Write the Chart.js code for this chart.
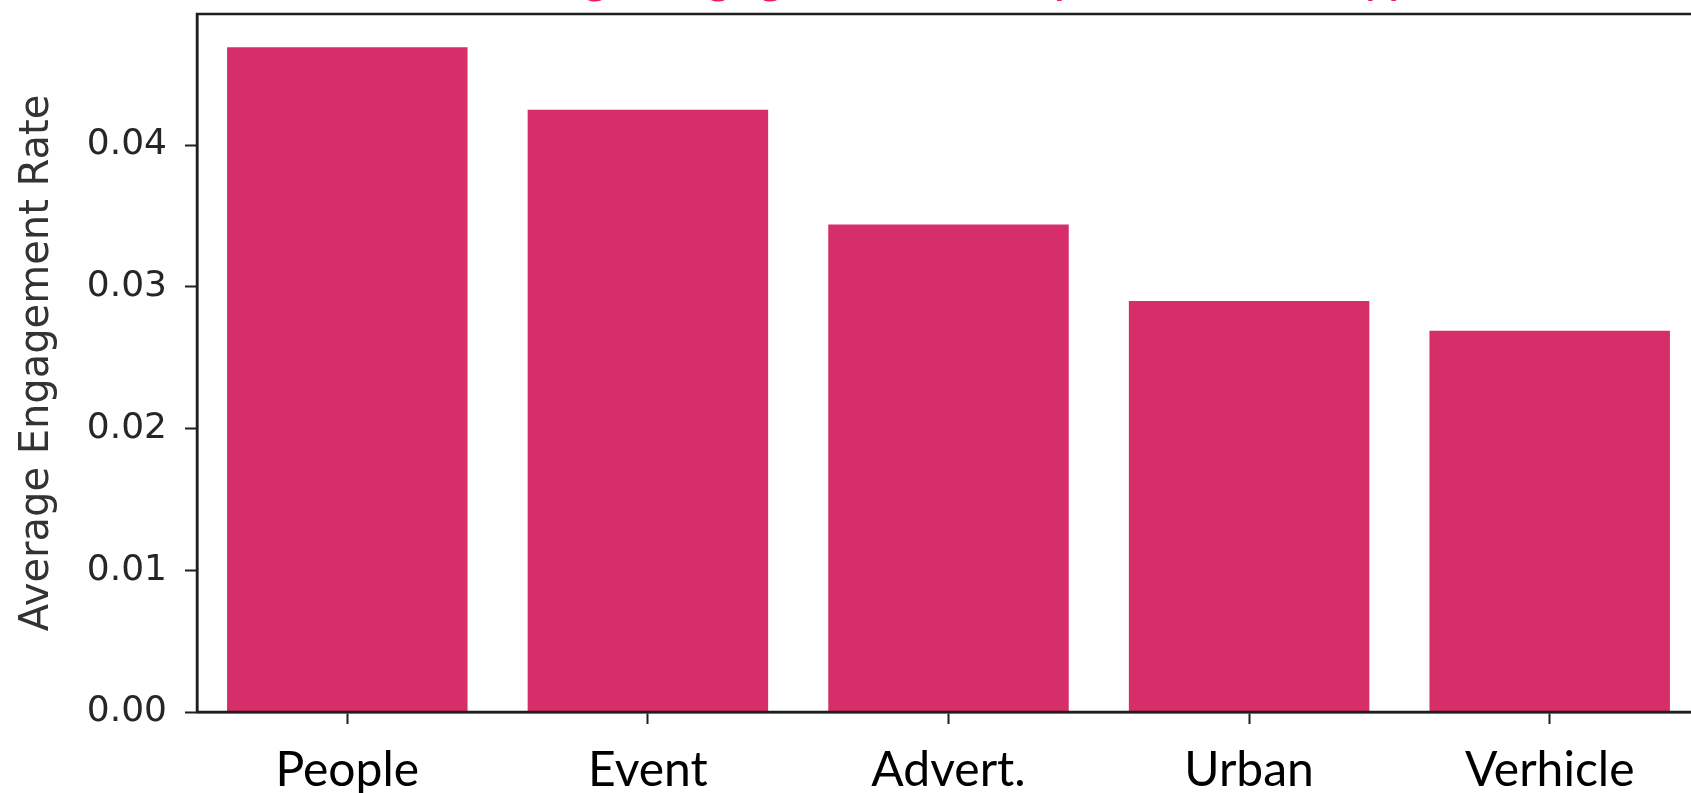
<!DOCTYPE html>
<html>
<head>
<meta charset="utf-8">
<script src="https://cdn.jsdelivr.net/npm/chart.js@4"></script>
<style>
  html, body { margin: 0; padding: 0; background: #fff; overflow: hidden; width: 1691px; height: 793px; }
  #wrap { position: absolute; left: 0; top: -60px; width: 1700px; height: 853px; }
</style>
</head>
<body>
<div id="wrap"><canvas id="c" width="1700" height="853"></canvas></div>
<script>
const categories = ['People', 'Event', 'Advert.', 'Urban', 'Verhicle'];
const engagementRates = [0.0469, 0.0425, 0.0344, 0.0290, 0.0269];
const yAxisMax = 0.04925;
const yTickStep = 0.01;
const chartTitle = 'Average Engagement Rate per Content Type';
const yAxisTitle = 'Average Engagement Rate';

const spinePlugin = {
  id: 'spines',
  afterDraw(chart) {
    const { ctx, chartArea: a } = chart;
    ctx.save();
    ctx.strokeStyle = '#1e1e1e';
    ctx.lineWidth = 2.5;
    ctx.strokeRect(a.left, a.top, a.right - a.left, a.bottom - a.top);
    ctx.restore();
  }
};

new Chart(document.getElementById('c'), {
  type: 'bar',
  data: {
    labels: categories,
    datasets: [{
      data: engagementRates,
      backgroundColor: '#D62E69',
      borderWidth: 0,
      barPercentage: 0.8,
      categoryPercentage: 1.0
    }]
  },
  options: {
    responsive: false,
    animation: false,
    devicePixelRatio: 1,
    layout: { padding: 0 },
    plugins: {
      legend: { display: false },
      tooltip: { enabled: false },
      title: {
        display: true,
        fullSize: false,
        text: chartTitle,
        color: '#EE1C5E',
        font: { family: 'Lato', size: 51, weight: 'normal', lineHeight: 1 },
        padding: { top: 10, bottom: 13 },
        align: 'center'
      }
    },
    scales: {
      x: {
        type: 'category',
        offset: true,
        afterFit(scale) { scale.height = 81; },
        grid: {
          display: true,
          drawOnChartArea: false,
          drawTicks: true,
          tickLength: 12,
          tickWidth: 2,
          tickColor: '#1e1e1e',
          offset: false
        },
        border: { display: true, color: '#1e1e1e', width: 2.5 },
        ticks: {
          color: '#000',
          font: { family: 'Lato', size: 48 },
          padding: 18,
          maxRotation: 0,
          autoSkip: false
        }
      },
      y: {
        min: 0,
        max: yAxisMax,
        afterFit(scale) { scale.width = 197; },
        grid: {
          display: true,
          drawOnChartArea: false,
          drawTicks: true,
          tickLength: 12,
          tickWidth: 2,
          tickColor: '#1e1e1e'
        },
        border: { display: true, color: '#1e1e1e', width: 2.5 },
        ticks: {
          stepSize: yTickStep,
          includeBounds: false,
          color: '#262626',
          font: { family: 'DejaVu Sans', size: 36 },
          padding: 18,
          callback: (v) => Number(v).toFixed(2)
        },
        title: {
          display: true,
          text: yAxisTitle,
          color: '#333',
          font: { family: 'DejaVu Sans', size: 40 },
          padding: { top: 14, bottom: 0 }
        }
      }
    }
  },
  plugins: [spinePlugin]
});
</script>
</body>
</html>
